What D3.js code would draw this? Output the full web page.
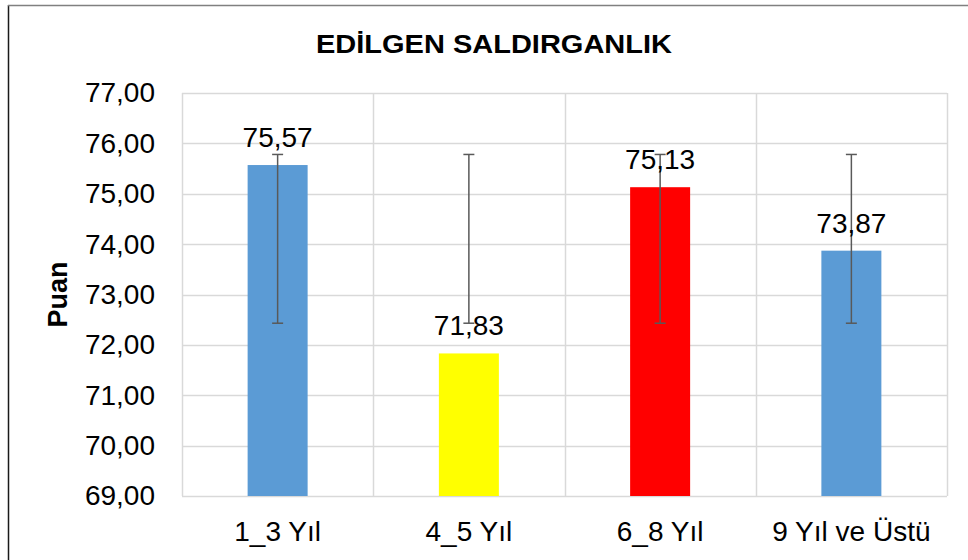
<!DOCTYPE html>
<html>
<head>
<meta charset="utf-8">
<script src="https://cdn.jsdelivr.net/npm/d3@7"></script>
<style>
  html, body { margin: 0; padding: 0; background: #fff; }
  svg { display: block; font-family: "Liberation Sans", Arial, sans-serif; }
</style>
</head>
<body>
<svg id="chart" width="968" height="560"></svg>
<script>
const title = "EDİLGEN SALDIRGANLIK";
const yAxisTitle = "Puan";
const categories = ["1_3 Yıl", "4_5 Yıl", "6_8 Yıl", "9 Yıl ve Üstü"];
const values = [75.57, 71.83, 75.13, 73.87];
const labels = ["75,57", "71,83", "75,13", "73,87"];
const errLow = [72.43, 72.43, 72.43, 72.43];
const errHigh = [75.78, 75.78, 75.78, 75.78];
const colors = ["#5B9BD5", "#FFFF00", "#FF0000", "#5B9BD5"];
const yTicks = [69, 70, 71, 72, 73, 74, 75, 76, 77];

const svg = d3.select("#chart");
const margin = { left: 182, right: 21, top: 93, bottom: 64 };
const W = 968, H = 560;
const plotW = W - margin.left - margin.right;
const plotH = H - margin.top - margin.bottom;

// chart border (left + top visible)
svg.append("line").attr("x1", 8.5).attr("x2", 8.5).attr("y1", 5).attr("y2", H)
  .attr("stroke", "#1a1a1a").attr("stroke-width", 1.5);
svg.append("line").attr("x1", 8).attr("x2", W).attr("y1", 5.5).attr("y2", 5.5)
  .attr("stroke", "#808080").attr("stroke-width", 1.5);

const x = d3.scaleBand().domain(categories).range([0, plotW]).paddingInner(0).paddingOuter(0);
const y = d3.scaleLinear().domain([69, 77]).range([plotH, 0]);

const g = svg.append("g").attr("transform", `translate(${margin.left},${margin.top})`);

// horizontal gridlines
g.append("g").selectAll("line").data(yTicks).join("line")
  .attr("x1", 0).attr("x2", plotW)
  .attr("y1", d => Math.round(y(d)) + 0.5).attr("y2", d => Math.round(y(d)) + 0.5)
  .attr("stroke", "#d9d9d9").attr("stroke-width", 1.5);

// vertical gridlines at category boundaries
const bounds = categories.map(c => x(c)).concat([plotW]);
g.append("g").selectAll("line").data(bounds).join("line")
  .attr("x1", d => Math.round(d) + 0.5).attr("x2", d => Math.round(d) + 0.5)
  .attr("y1", 0).attr("y2", plotH)
  .attr("stroke", "#d9d9d9").attr("stroke-width", 1.5);

// y axis labels
const yAxis = d3.axisLeft(y).tickValues(yTicks).tickSize(0).tickPadding(27)
  .tickFormat(d => d3.format(".2f")(d).replace(".", ","));
const ya = g.append("g").call(yAxis);
ya.select(".domain").remove();
ya.selectAll("text").attr("font-size", 28).attr("fill", "#000")
  .attr("font-family", "Liberation Sans, Arial, sans-serif");

// x axis labels
const xAxis = d3.axisBottom(x).tickSize(0).tickPadding(25);
const xa = g.append("g").attr("transform", `translate(0,${plotH})`).call(xAxis);
xa.select(".domain").remove();
xa.selectAll("text").attr("font-size", 28).attr("fill", "#000")
  .attr("font-family", "Liberation Sans, Arial, sans-serif");

// bars
const barW = 60;
const data = categories.map((c, i) => ({ c, v: values[i], lab: labels[i], lo: errLow[i], hi: errHigh[i], col: colors[i] }));
g.append("g").selectAll("rect").data(data).join("rect")
  .attr("x", d => x(d.c) + x.bandwidth() / 2 - barW / 2)
  .attr("width", barW)
  .attr("y", d => y(d.v))
  .attr("height", d => plotH - y(d.v))
  .attr("fill", d => d.col);

// error bars
const eb = g.append("g").attr("stroke", "#595959").attr("stroke-width", 1.5);
data.forEach(d => {
  const cx = x(d.c) + x.bandwidth() / 2;
  eb.append("line").attr("x1", cx).attr("x2", cx).attr("y1", y(d.hi)).attr("y2", y(d.lo));
  eb.append("line").attr("x1", cx - 5.5).attr("x2", cx + 5.5).attr("y1", y(d.hi)).attr("y2", y(d.hi));
  eb.append("line").attr("x1", cx - 5.5).attr("x2", cx + 5.5).attr("y1", y(d.lo)).attr("y2", y(d.lo));
});

// data labels
g.append("g").selectAll("text").data(data).join("text")
  .attr("x", d => x(d.c) + x.bandwidth() / 2)
  .attr("y", d => y(d.v) - 18)
  .attr("text-anchor", "middle")
  .attr("font-size", 28)
  .attr("fill", "#000")
  .text(d => d.lab);

// title
svg.append("text").attr("x", 494).attr("y", 53).attr("text-anchor", "middle")
  .attr("font-size", 26).attr("font-weight", "bold").attr("fill", "#000")
  .attr("textLength", 356).attr("lengthAdjust", "spacingAndGlyphs")
  .text(title);

// y axis title
svg.append("text")
  .attr("transform", `translate(67,${margin.top + plotH / 2}) rotate(-90)`)
  .attr("text-anchor", "middle")
  .attr("font-size", 27).attr("font-weight", "bold").attr("fill", "#000")
  .text(yAxisTitle);
</script>
</body>
</html>
